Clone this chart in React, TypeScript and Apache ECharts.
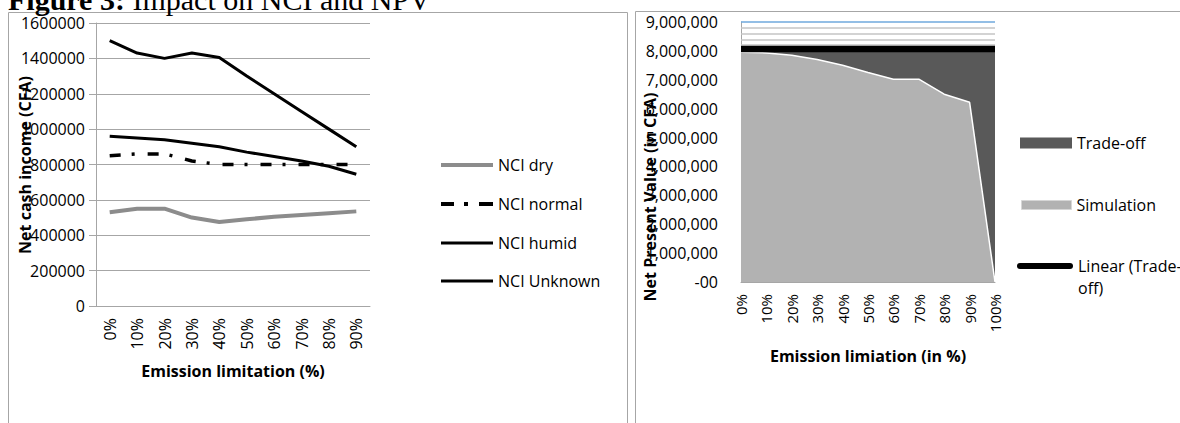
import React, { useEffect, useRef } from "react";
import * as echarts from "echarts";

// Left panel: net cash income by emission limitation
const nciCategories = ["0%", "10%", "20%", "30%", "40%", "50%", "60%", "70%", "80%", "90%"];
const nciDry = [530000, 550000, 550000, 500000, 475000, 490000, 505000, 515000, 525000, 535000];
const nciNormal = [850000, 860000, 860000, 820000, 800000, 800000, 800000, 800000, 800000, 800000];
const nciHumid = [1500000, 1430000, 1400000, 1430000, 1405000, 1300000, 1200000, 1100000, 1000000, 900000];
const nciUnknown = [960000, 950000, 940000, 920000, 900000, 870000, 845000, 820000, 790000, 745000];

// Right panel: net present value by emission limitation
const npvCategories = ["0%", "10%", "20%", "30%", "40%", "50%", "60%", "70%", "80%", "90%", "100%"];
const tradeOff = [8070000, 8070000, 8070000, 8070000, 8070000, 8070000, 8070000, 8070000, 8070000, 8070000, 8070000];
const simulation = [7950000, 7930000, 7850000, 7700000, 7500000, 7250000, 7020000, 7020000, 6500000, 6220000, 0];
const guideLevels = [9000000, 8800000, 8600000, 8400000, 8200000];

// Least-squares linear trend of the trade-off series
function linearTrend(values: number[]): number[] {
  const n = values.length;
  let sx = 0, sy = 0, sxx = 0, sxy = 0;
  values.forEach((v, i) => {
    sx += i; sy += v; sxx += i * i; sxy += i * v;
  });
  const slope = (n * sxy - sx * sy) / (n * sxx - sx * sx);
  const intercept = (sy - slope * sx) / n;
  return values.map((_, i) => intercept + slope * i);
}

const FONT = "'Open Sans', sans-serif";
const GRAY = "#a6a6a6";

function npvLabel(v: number): string {
  if (v === 0) return "-00";
  return v.toString().replace(/\B(?=(\d{3})+(?!\d))/g, ",");
}

function lineLegend(name: string, left: number, centerY: number, icon: string, color: string, h: number) {
  return {
    data: [{ name, icon, itemStyle: { color, borderWidth: 0 } }],
    left,
    top: centerY - 7,
    padding: 0,
    itemWidth: 52,
    itemHeight: h,
    selectedMode: false,
    textStyle: { fontSize: 16, color: "#000", fontFamily: FONT },
  };
}

export default function App() {
  const ref = useRef<HTMLDivElement>(null);

  useEffect(() => {
    if (!ref.current) return;
    const chart = echarts.init(ref.current, undefined, { renderer: "svg" });
    const trend = linearTrend(tradeOff);

    const option: any = {
      animation: false,
      textStyle: { fontFamily: FONT },
      graphic: [
        {
          type: "rect",
          silent: true,
          shape: { x: 8.5, y: 12.5, width: 619, height: 440 },
          style: { fill: "none", stroke: GRAY, lineWidth: 1 },
        },
        {
          type: "rect",
          silent: true,
          shape: { x: 635.5, y: 11.5, width: 600, height: 440 },
          style: { fill: "none", stroke: GRAY, lineWidth: 1 },
        },
        {
          type: "text",
          x: 8,
          y: -1,
          style: {
            text: "{b|Figure 3:} Impact on NCI and NPV",
            font: "30px 'Liberation Serif', serif",
            fill: "#000",
            verticalAlign: "middle",
            rich: { b: { fontWeight: "bold", fontSize: 30, fontFamily: "'Liberation Serif', serif" } },
          },
        },
        {
          type: "text",
          x: 25,
          y: 165,
          rotation: Math.PI / 2,
          style: {
            text: "Net cash income (CFA)",
            font: "bold 16px 'Open Sans', sans-serif",
            fill: "#000",
            align: "center",
            verticalAlign: "middle",
          },
        },
        {
          type: "text",
          x: 650,
          y: 197,
          rotation: Math.PI / 2,
          style: {
            text: "Net Present Value (in CFA)",
            font: "bold 16px 'Open Sans', sans-serif",
            fill: "#000",
            align: "center",
            verticalAlign: "middle",
          },
        },
      ],
      grid: [
        { left: 96, top: 23, width: 274, height: 283 },
        { left: 741, top: 22, width: 254, height: 260 },
      ],
      xAxis: [
        {
          gridIndex: 0,
          type: "category",
          data: nciCategories,
          boundaryGap: true,
          axisLine: { lineStyle: { color: GRAY } },
          axisTick: { show: false },
          axisLabel: { rotate: 90, margin: 12, fontSize: 16, color: "#000" },
          name: "Emission limitation (%)",
          nameLocation: "middle",
          nameGap: 57,
          nameTextStyle: { fontWeight: "bold", fontSize: 16, color: "#000" },
        },
        {
          gridIndex: 1,
          type: "category",
          data: npvCategories,
          boundaryGap: false,
          axisLine: { lineStyle: { color: GRAY } },
          axisTick: { show: false },
          axisLabel: { rotate: 90, margin: 12, fontSize: 15, color: "#000", interval: 0 },
          name: "Emission limiation (in %)",
          nameLocation: "middle",
          nameGap: 66,
          nameTextStyle: { fontWeight: "bold", fontSize: 16, color: "#000" },
        },
      ],
      yAxis: [
        {
          gridIndex: 0,
          type: "value",
          min: 0,
          max: 1600000,
          interval: 200000,
          axisLine: { show: true, lineStyle: { color: GRAY } },
          axisTick: { show: true, length: 7, lineStyle: { color: GRAY } },
          splitLine: { lineStyle: { color: GRAY } },
          axisLabel: { fontSize: 16, margin: 11, color: "#000", formatter: (v: number) => String(v) },
        },
        {
          gridIndex: 1,
          type: "value",
          min: 0,
          max: 9000000,
          interval: 1000000,
          axisLine: { show: true, lineStyle: { color: GRAY } },
          axisTick: { show: false },
          splitLine: { show: false },
          axisLabel: { fontSize: 16, margin: 23, color: "#000", formatter: npvLabel },
        },
      ],
      legend: [
        lineLegend("NCI dry", 441, 164, "rect", "#8c8c8c", 4),
        lineLegend("NCI normal", 441, 203, "path://M0,0h13v4h-13z M23,0h4v4h-4z M38,0h14v4h-14z", "#000", 4),
        lineLegend("NCI humid", 441, 242, "rect", "#000", 3),
        lineLegend("NCI Unknown", 441, 280, "rect", "#000", 3),
        {
          data: [{ name: "Trade-off", icon: "rect", itemStyle: { color: "#595959", borderWidth: 0 } }],
          left: 1020,
          top: 135,
          padding: 0,
          itemWidth: 52,
          itemHeight: 11,
          selectedMode: false,
          textStyle: { fontSize: 16, color: "#000", fontFamily: FONT },
        },
        {
          data: [{ name: "Simulation", icon: "rect", itemStyle: { color: "#b2b2b2", borderColor: "#d6d6d6", borderWidth: 1 } }],
          left: 1021,
          top: 197,
          padding: 0,
          itemWidth: 50,
          itemHeight: 9,
          selectedMode: false,
          textStyle: { fontSize: 16, color: "#000", fontFamily: FONT },
        },
        {
          data: [
            {
              name: "Linear (Trade-off)",
              icon: "path://M3,0h50a3,3 0 0 1 0,6h-50a3,3 0 0 1 0,-6z",
              itemStyle: { color: "#000", borderWidth: 0 },
            },
          ],
          left: 1017,
          top: 233,
          padding: 0,
          itemWidth: 56,
          itemHeight: 6,
          selectedMode: false,
          formatter: () => " \nLinear (Trade-\noff)",
          textStyle: { fontSize: 16, color: "#000", fontFamily: FONT, lineHeight: 22 },
        },
      ],
      series: [
        {
          name: "NCI dry",
          type: "line",
          xAxisIndex: 0,
          yAxisIndex: 0,
          data: nciDry,
          symbol: "none",
          lineStyle: { color: "#8c8c8c", width: 4 },
          itemStyle: { color: "#8c8c8c" },
        },
        {
          name: "NCI normal",
          type: "line",
          xAxisIndex: 0,
          yAxisIndex: 0,
          data: nciNormal,
          symbol: "none",
          lineStyle: { color: "#000", width: 3.5, type: [11, 11, 3, 13] },
          itemStyle: { color: "#000" },
        },
        {
          name: "NCI humid",
          type: "line",
          xAxisIndex: 0,
          yAxisIndex: 0,
          data: nciHumid,
          symbol: "none",
          lineStyle: { color: "#000", width: 3 },
          itemStyle: { color: "#000" },
        },
        {
          name: "NCI Unknown",
          type: "line",
          xAxisIndex: 0,
          yAxisIndex: 0,
          data: nciUnknown,
          symbol: "none",
          lineStyle: { color: "#000", width: 3 },
          itemStyle: { color: "#000" },
        },
        {
          name: "Trade-off",
          type: "line",
          xAxisIndex: 1,
          yAxisIndex: 1,
          data: tradeOff,
          symbol: "none",
          lineStyle: { opacity: 0 },
          areaStyle: { color: "#595959", opacity: 1 },
          itemStyle: { color: "#595959" },
          markLine: {
            silent: true,
            symbol: "none",
            label: { show: false },
            data: guideLevels.map((v, i) => ({
              yAxis: v,
              lineStyle: { color: i === 0 ? "#6fa8dc" : "#c4c4c4", width: 1.5, type: "solid" },
            })),
          },
        },
        {
          name: "Simulation",
          type: "line",
          xAxisIndex: 1,
          yAxisIndex: 1,
          data: simulation,
          symbol: "none",
          lineStyle: { color: "#fff", width: 1.5 },
          areaStyle: { color: "#b2b2b2", opacity: 1 },
          itemStyle: { color: "#b2b2b2" },
        },
        {
          name: "Linear (Trade-off)",
          type: "line",
          xAxisIndex: 1,
          yAxisIndex: 1,
          data: trend,
          symbol: "none",
          lineStyle: { color: "#000", width: 7 },
          itemStyle: { color: "#000" },
        },
      ],
    };

    chart.setOption(option);
    return () => chart.dispose();
  }, []);

  return (
    <div
      ref={ref}
      style={{ position: "fixed", left: 0, top: 0, width: 1180, height: 423, background: "#fff" }}
    />
  );
}
